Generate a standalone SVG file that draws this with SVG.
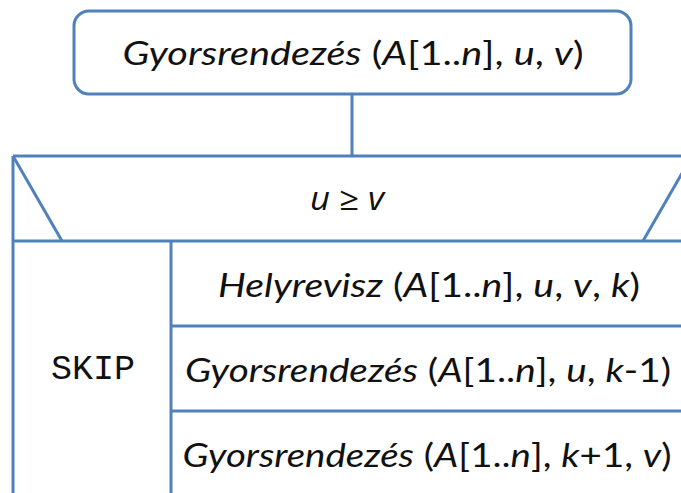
<svg xmlns="http://www.w3.org/2000/svg" width="681" height="493" viewBox="0 0 681 493">
<style>
.ln{stroke:#4f81bd;stroke-width:3;fill:none}
.t{font-family:Lato,"Open Sans","Liberation Sans",sans-serif;font-size:33px;fill:#111}
.i{font-style:italic}
.c{font-family:"Open Sans","Noto Sans",sans-serif;font-size:32px;fill:#111}
.m{font-family:"Liberation Mono","Courier New",monospace;font-size:35px;fill:#111}
</style>
<rect width="681" height="493" fill="#fff"/>
<g id="header">
<rect class="ln" x="74" y="11" width="557" height="83" rx="15"/>
<text class="t" x="353" y="65" text-anchor="middle" textLength="461" lengthAdjust="spacingAndGlyphs"><tspan class="i">Gyorsrendezés</tspan> (<tspan class="i">A</tspan>[1..<tspan class="i">n</tspan>], <tspan class="i">u</tspan>, <tspan class="i">v</tspan>)</text>
</g>
<g id="connectors">
<line class="ln" x1="352" y1="94" x2="352" y2="156"/>
</g>
<g id="condition">
<line class="ln" x1="13" y1="156" x2="700" y2="156"/>
<line class="ln" x1="13" y1="156" x2="13" y2="500"/>
<line class="ln" x1="13" y1="156" x2="62" y2="241"/>
<line class="ln" x1="692" y1="156" x2="643" y2="241"/>
<line class="ln" x1="13" y1="241" x2="700" y2="241"/>
<text class="c" x="347" y="210" text-anchor="middle" textLength="74" lengthAdjust="spacingAndGlyphs"><tspan class="i">u</tspan> ≥ <tspan class="i">v</tspan></text>
</g>
<g id="skip">
<line class="ln" x1="171" y1="241" x2="171" y2="500"/>
<text class="m" x="93" y="379" text-anchor="middle">SKIP</text>
</g>
<g id="stmt1">
<text class="t" x="429" y="297" text-anchor="middle" textLength="422" lengthAdjust="spacingAndGlyphs"><tspan class="i">Helyrevisz</tspan> (<tspan class="i">A</tspan>[1..<tspan class="i">n</tspan>], <tspan class="i">u</tspan>, <tspan class="i">v</tspan>, <tspan class="i">k</tspan>)</text>
<line class="ln" x1="171" y1="326" x2="700" y2="326"/>
</g>
<g id="stmt2">
<text class="t" x="428" y="382" text-anchor="middle" textLength="486" lengthAdjust="spacingAndGlyphs"><tspan class="i">Gyorsrendezés</tspan> (<tspan class="i">A</tspan>[1..<tspan class="i">n</tspan>], <tspan class="i">u</tspan>, <tspan class="i">k</tspan>-1)</text>
<line class="ln" x1="171" y1="411" x2="700" y2="411"/>
</g>
<g id="stmt3">
<text class="t" x="427" y="467" text-anchor="middle" textLength="489" lengthAdjust="spacingAndGlyphs"><tspan class="i">Gyorsrendezés</tspan> (<tspan class="i">A</tspan>[1..<tspan class="i">n</tspan>], <tspan class="i">k</tspan>+1, <tspan class="i">v</tspan>)</text>
</g>
</svg>
